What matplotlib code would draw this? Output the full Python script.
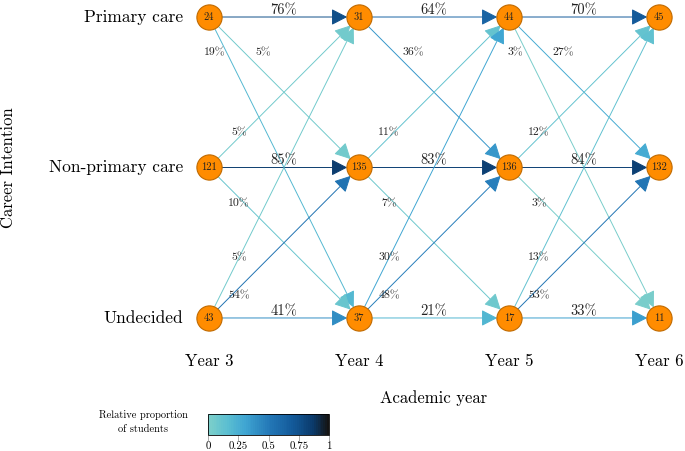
import matplotlib
matplotlib.use("Agg")
import matplotlib.pyplot as plt
from matplotlib.colors import LinearSegmentedColormap
from matplotlib.patches import FancyArrowPatch
import matplotlib.colorbar as mcolorbar
import matplotlib.colors as mcolors

plt.rcParams['font.family'] = ['cmr10', 'DejaVu Serif']
plt.rcParams['axes.formatter.use_mathtext'] = True

# data
years = ["Year 3", "Year 4", "Year 5", "Year 6"]
categories = ["Primary care", "Non-primary care", "Undecided"]
cat_y = {"Primary care": 2, "Non-primary care": 1, "Undecided": 0}

counts_y3 = [24, 121, 43]
counts_y4 = [31, 135, 37]
counts_y5 = [44, 136, 17]
counts_y6 = [45, 132, 11]
counts = [counts_y3, counts_y4, counts_y5, counts_y6]

# transitions between consecutive years: (from cat, to cat, percent)
trans_y3 = [("Primary care", "Primary care", 76), ("Primary care", "Non-primary care", 5),
            ("Primary care", "Undecided", 19),
            ("Non-primary care", "Primary care", 5), ("Non-primary care", "Non-primary care", 85),
            ("Non-primary care", "Undecided", 10),
            ("Undecided", "Primary care", 5), ("Undecided", "Non-primary care", 54),
            ("Undecided", "Undecided", 41)]
trans_y4 = [("Primary care", "Primary care", 64), ("Primary care", "Non-primary care", 36),
            ("Non-primary care", "Primary care", 11), ("Non-primary care", "Non-primary care", 83),
            ("Non-primary care", "Undecided", 7),
            ("Undecided", "Primary care", 30), ("Undecided", "Non-primary care", 48),
            ("Undecided", "Undecided", 21)]
trans_y5 = [("Primary care", "Primary care", 70), ("Primary care", "Non-primary care", 27),
            ("Primary care", "Undecided", 3),
            ("Non-primary care", "Primary care", 12), ("Non-primary care", "Non-primary care", 84),
            ("Non-primary care", "Undecided", 3),
            ("Undecided", "Primary care", 13), ("Undecided", "Non-primary care", 53),
            ("Undecided", "Undecided", 33)]
transitions = [trans_y3, trans_y4, trans_y5]

# colour map: light teal -> blue -> near black
cmap = LinearSegmentedColormap.from_list(
    "prop", [(0.0, "#7ccfca"), (0.15, "#5cbfd1"), (0.3, "#40a6d2"), (0.5, "#2479b8"),
             (0.7, "#135a9a"), (0.87, "#0b3b6c"), (1.0, "#141414")], N=64)

fig = plt.figure(figsize=(6.85, 4.51), dpi=100)
ax = fig.add_axes([0, 0, 1, 1])
ax.set_xlim(-1.393, 3.173)
ax.set_ylim(-0.884, 2.113)
ax.axis("off")

px = 1 / 150.0
# label offsets (in px) relative to source node, by (from, to)
label_off = {
    (2, 0): (6, -35), (2, 1): (54, -35),
    (1, 2): (30, 35), (1, 0): (30, -36),
    (0, 2): (30, 60), (0, 1): (30, 22),
}

for i, trans in enumerate(transitions):
    for src, dst, pct in trans:
        y0, y1 = cat_y[src], cat_y[dst]
        col = cmap(pct / 100)
        arr = FancyArrowPatch((i, y0), (i + 1, y1),
                              arrowstyle="-|>,head_length=0.7,head_width=0.36",
                              mutation_scale=14, shrinkA=0, shrinkB=8.5,
                              color=col, lw=0.7, zorder=1)
        ax.add_patch(arr)
        if y0 == y1:
            ax.text(i + 0.5, y0 + 7 * px, f"{pct}%", ha="center", va="center",
                    fontsize=10.5, color="#222222", zorder=4)
        else:
            dx, dy = label_off[(y0, y1)]
            ax.text(i + dx * px, y0 + dy * px, f"{pct}%", ha="center", va="center",
                    fontsize=8.5, color="#222222", zorder=4)

# nodes
for i, cnt in enumerate(counts):
    for cat, n in zip(categories, cnt):
        ax.scatter(i, cat_y[cat], s=330, color="#ff8c00", edgecolors="#c06a00",
                   linewidths=0.8, zorder=3)
        ax.text(i, cat_y[cat], str(n), ha="center", va="center", fontsize=7.5,
                color="#222222", zorder=5)

for cat in categories:
    ax.text(-26 * px, cat_y[cat], cat, ha="right", va="center", fontsize=12.5)

for i, yr in enumerate(years):
    ax.text(i, 2 - 343 * px, yr, ha="center", va="center", fontsize=12)

ax.text(1.5, 2 - 380 * px, "Academic year", ha="center", va="center", fontsize=12)
ax.text(-201 * px, 1, "Career Intention", ha="center", va="center",
        rotation=90, fontsize=12)

# colour bar
cax = fig.add_axes([208 / 685, 16 / 451, 121 / 685, 21 / 451])
cb = mcolorbar.ColorbarBase(cax, cmap=cmap, norm=mcolors.Normalize(0, 1),
                            orientation="horizontal", ticks=[0, 0.25, 0.5, 0.75, 1])
cb.ax.set_xticklabels(["0", "0.25", "0.5", "0.75", "1"])
cb.ax.tick_params(labelsize=7.8, length=4, width=0.5, color="#888888", pad=0.5)
cb.outline.set_linewidth(0.6)
fig.text(143 / 685, 1 - 422 / 451, "Relative proportion\nof students", ha="center",
         va="center", fontsize=7.5, linespacing=1.5)

fig.savefig("out.png", dpi=100)
